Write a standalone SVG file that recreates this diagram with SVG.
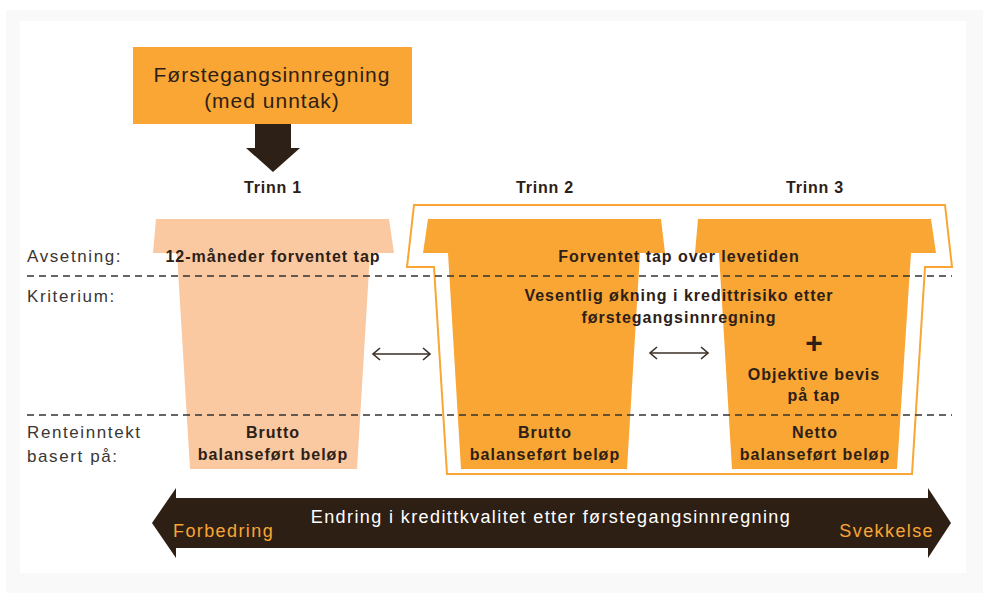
<svg xmlns="http://www.w3.org/2000/svg" width="983" height="593" viewBox="0 0 983 593">
<defs>
<style>
.lbl{font-family:"Liberation Sans",Arial,sans-serif;font-size:17px;fill:#3a3634;letter-spacing:1.6px}
.cup{font-family:"Liberation Sans",Arial,sans-serif;font-size:16px;font-weight:bold;fill:#2d2016;letter-spacing:1px;text-anchor:middle}
.trinn{font-family:"Liberation Sans",Arial,sans-serif;font-size:16px;font-weight:bold;fill:#2d2016;letter-spacing:0.8px;text-anchor:middle}
.hdr{font-family:"Liberation Sans",Arial,sans-serif;font-size:21px;fill:#2d2016;letter-spacing:1px;text-anchor:middle}
.bar{font-family:"Liberation Sans",Arial,sans-serif;font-size:18px;letter-spacing:1.4px}
.dash{stroke:#333;stroke-width:1.5;stroke-dasharray:7 5;fill:none}
.dbl{stroke:#3a2e25;stroke-width:1.6;fill:none;marker-start:url(#chev);marker-end:url(#chev)}
</style>
<marker id="chev" markerUnits="userSpaceOnUse" markerWidth="12" markerHeight="14" refX="9" refY="7" orient="auto-start-reverse">
<path d="M2,1 L9,7 L2,13" fill="none" stroke="#3a2e25" stroke-width="1.6"/>
</marker>
</defs>
<rect x="0" y="0" width="983" height="593" fill="#ffffff"/>
<rect x="6" y="10" width="977" height="583" fill="#f9f9f9"/>
<rect x="20" y="21" width="946" height="552" fill="#ffffff"/>

<g id="outline-stage23">
<polygon points="414,205 945,205 952,267 925,267 912,474 447,474 434,267 407,267" fill="#ffffff" stroke="#f9a634" stroke-width="2"/>
</g>

<g id="cup1">
<polygon points="156,219 389,219 394,253 370,253 357,469 190,469 177,253 153,253" fill="#fac9a1"/>
</g>
<g id="cup2">
<polygon points="428,219 661,219 665,253 640,253 627,469 461,469 448,253 423,253" fill="#f9a634"/>
</g>
<g id="cup3">
<polygon points="698,219 931,219 936,253 911,253 897,469 732,469 719,253 695,253" fill="#f9a634"/>
</g>

<g id="dividers">
<line class="dash" x1="27" y1="276" x2="952" y2="276"/>
<line class="dash" x1="27" y1="415" x2="952" y2="415"/>
</g>

<g id="header">
<rect x="133" y="47" width="279" height="77" fill="#f9a634"/>
<text class="hdr" x="272" y="82">Førstegangsinnregning</text>
<text class="hdr" x="272" y="108">(med unntak)</text>
</g>

<g id="stage-labels">
<text class="trinn" x="273" y="193">Trinn 1</text>
<text class="trinn" x="545" y="193">Trinn 2</text>
<text class="trinn" x="815" y="193">Trinn 3</text>
</g>

<g id="row-labels">
<text class="lbl" x="27" y="262">Avsetning:</text>
<text class="lbl" x="27" y="302">Kriterium:</text>
<text class="lbl" x="27" y="438">Renteinntekt</text>
<text class="lbl" x="27" y="462">basert på:</text>
</g>

<g id="cup1-text">
<text class="cup" x="273" y="262">12-måneder forventet tap</text>
<text class="cup" x="273" y="438">Brutto</text>
<text class="cup" x="273" y="460">balanseført beløp</text>
</g>
<g id="cup23-text">
<text class="cup" x="679" y="262">Forventet tap over levetiden</text>
<text class="cup" x="679" y="301">Vesentlig økning i kredittrisiko etter</text>
<text class="cup" x="679" y="323">førstegangsinnregning</text>
</g>
<g id="cup2-text">
<text class="cup" x="545" y="438">Brutto</text>
<text class="cup" x="545" y="460">balanseført beløp</text>
</g>
<g id="cup3-text">
<text class="cup" x="814" y="353" style="font-size:30px;letter-spacing:0">+</text>
<text class="cup" x="814" y="380">Objektive bevis</text>
<text class="cup" x="814" y="401">på tap</text>
<text class="cup" x="815" y="438">Netto</text>
<text class="cup" x="815" y="460">balanseført beløp</text>
</g>

<g id="connectors">
<polygon points="255,124 291,124 291,148 300,148 273,172 246,148 255,148" fill="#2d2016"/>
<line class="dbl" x1="373" y1="354" x2="430" y2="354"/>
<line class="dbl" x1="650" y1="353" x2="708" y2="353"/>
</g>

<g id="quality-arrow">
<polygon points="152,523 176,488 176,498 928,498 928,488 951,523 928,558 928,548 176,548 176,558" fill="#2d1f14"/>
<text class="bar" x="551" y="523" fill="#ffffff" text-anchor="middle">Endring i kredittkvalitet etter førstegangsinnregning</text>
<text class="bar" x="173" y="537" fill="#f9a634">Forbedring</text>
<text class="bar" x="934" y="537" fill="#f9a634" text-anchor="end">Svekkelse</text>
</g>
</svg>
